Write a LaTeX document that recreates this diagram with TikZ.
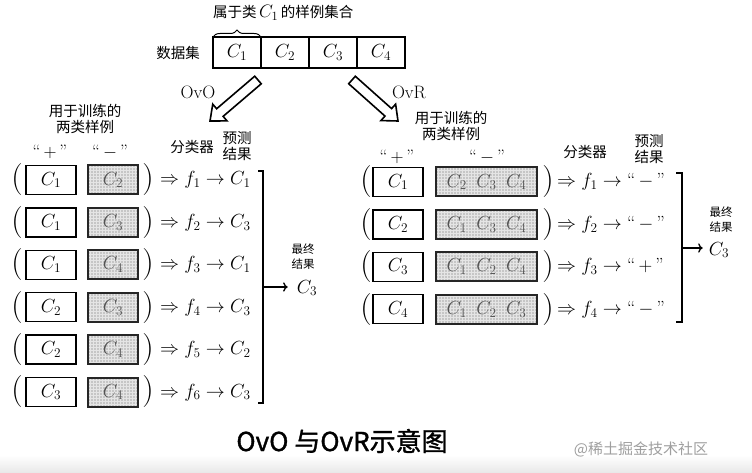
\RequirePackage{fix-cm}
\documentclass[tikz,border=0pt]{standalone}
\usepackage{fontspec}
\newfontfamily\cjk{Noto Sans CJK SC}
\newfontfamily\cjkcap[FakeBold=1.3]{Noto Sans CJK SC}
\usetikzlibrary{arrows.meta,positioning,calc,patterns,decorations.pathreplacing}

\tikzset{
  zh/.style={font=\cjk\fontsize{14.5}{16.5}\selectfont, align=center, inner sep=1pt},
  zhs/.style={zh, font=\cjk\fontsize{11.5}{15}\selectfont},
  lat/.style={font=\fontsize{18}{20}\selectfont, inner sep=1pt},
  mth/.style={font=\fontsize{19}{22}\selectfont, inner sep=0pt},
  paren/.style={font=\fontsize{32}{32}\selectfont, inner sep=0pt},
  posbox/.style={draw, line width=1.4pt, minimum width=50pt, minimum height=29pt,
    inner sep=0pt, font=\fontsize{19}{22}\selectfont},
  negbox/.style={posbox, draw=black!85, line width=2pt, pattern=grid,
    pattern color=white!80!gray, preaction={fill=gray!45}, text=gray!65!black},
  cell/.style={draw, line width=1.2pt, minimum width=48pt, minimum height=31pt,
    inner sep=0pt, outer sep=0pt, font=\fontsize{19}{22}\selectfont},
  hollow/.style={draw, fill=white, line width=1.6pt, line join=miter},
}

% hollow block arrow from #1 to #2
\newcommand{\fatarrow}[2]{%
  \coordinate (#1h) at ($(#2)!13pt!(#1)$);
  \draw[hollow] ($(#1)!5pt!90:(#2)$) -- ($(#1h)!5pt!-90:(#1)$)
    -- ($(#1h)!11pt!-90:(#1)$) -- (#2) -- ($(#1h)!11pt!90:(#1)$)
    -- ($(#1h)!5pt!90:(#1)$) -- ($(#1)!5pt!-90:(#2)$) -- cycle;}

\begin{document}
\begin{tikzpicture}[x=1pt, y=-1pt]
\useasboundingbox[fill=white] (0,0) rectangle (752,473);
\shade[top color=white, bottom color=gray!18] (0,455) rectangle (752,473);

% data set
\node[cell] (d1) at (237,52.5) {$C_1$};
\node[cell] (d2) at (285,52.5) {$C_2$};
\node[cell] (d3) at (333,52.5) {$C_3$};
\node[cell] (d4) at (381,52.5) {$C_4$};
\node[zh, left=12pt of d1] (dset) {数据集};
\draw[decorate, decoration={brace, amplitude=7pt}, line width=1pt] (d1.north west) -- (d1.north east);
\node[zh, anchor=west] (dtitle) at (212,13) {属于类\,{\fontsize{18}{20}\selectfont$C_1$}\,的样例集合};

% OvO / OvR arrows
\coordinate (ovos) at (258,80);
\coordinate (ovot) at (210,121);
\coordinate (ovrs) at (352,80);
\coordinate (ovrt) at (398,121);
\fatarrow{ovos}{ovot}
\fatarrow{ovrs}{ovrt}
\node[lat] (ovo) at (198,92) {OvO};
\node[lat] (ovr) at (409,92) {OvR};

% OvO
\node[zh] (ovohd) at (85,119) {用于训练的\\两类样例};
\node[lat] (ovoplus) at (50,152) {“\,$+$\,”};
\node[lat] (ovominus) at (110,152) {“\,$-$\,”};
\node[zh] (ovocls) at (192,147) {分类器};
\node[zh] (ovopred) at (237,146) {预测\\结果};
\foreach \row/\pa/\na/\res in {1/1/2/1,2/1/3/3,3/1/4/1,4/2/3/3,5/2/4/2,6/3/4/3}{
  \pgfmathsetmacro\yy{180+42.4*(\row-1)}
  \node[paren] (ovol\row) at (17,\yy) {(};
  \node[posbox] (ovop\row) at (51,\yy) {$C_\pa$};
  \node[negbox] (ovon\row) at (113,\yy) {$C_\na$};
  \node[paren] (ovor\row) at (148,\yy) {)};
  \node[mth, anchor=base west] (ovof\row) at (160,\yy+5) {$\Rightarrow f_\row \rightarrow C_\res$};
}
\draw[line width=1.3pt] (258,171) -- (263,171) -- (263,403) -- (258,403);
\coordinate (ovoj) at (263,287);
\node[mth] (ovofinal) at (307,288) {$C_3$};
\node[zhs] (ovofinalhd) at (303,257) {最终\\结果};
\draw[->, line width=1.3pt, shorten >=9pt] (ovoj) -- (ovoj -| ovofinal.west);

% OvR
\node[zh] (ovrhd) at (451,126) {用于训练的\\两类样例};
\node[lat] (ovrplus) at (397,157) {“\,$+$\,”};
\node[lat] (ovrminus) at (487,157) {“\,$-$\,”};
\node[zh] (ovrcls) at (585,152) {分类器};
\node[zh] (ovrpred) at (649,149) {预测\\结果};
\foreach \row/\ra/\rb/\rc/\res in {1/2/3/4/-,2/1/3/4/-,3/1/2/4/+,4/1/2/3/-}{
  \pgfmathsetmacro\yy{182+42.4*(\row-1)}
  \node[paren] (ovrl\row) at (366,\yy) {(};
  \node[posbox] (ovrp\row) at (398,\yy) {$C_\row$};
  \node[negbox, minimum width=101pt] (ovrn\row) at (486.5,\yy) {$C_\ra\enspace C_\rb\enspace C_\rc$};
  \node[paren] (ovrr\row) at (548,\yy) {)};
  \node[mth, anchor=base west] (ovrf\row) at (557,\yy+5) {$\Rightarrow f_\row \rightarrow{}$“\,$\res$\,”};
}
\draw[line width=1.3pt] (676,173) -- (682,173) -- (682,322) -- (676,322);
\coordinate (ovrj) at (682,248);
\node[mth] (ovrfinal) at (719,250) {$C_3$};
\node[zhs] (ovrfinalhd) at (721,220) {最终\\结果};
\draw[->, line width=1.3pt, shorten >=6pt] (ovrj) -- (ovrj -| ovrfinal.west);

% caption
\node[font=\cjkcap\fontsize{26}{30}\selectfont] (cap) at (342,441) {OvO 与OvR示意图};
\node[font=\cjk\fontsize{15}{18}\selectfont, text=gray!75] (mark) at (641,449) {@稀土掘金技术社区};
\end{tikzpicture}
\end{document}
